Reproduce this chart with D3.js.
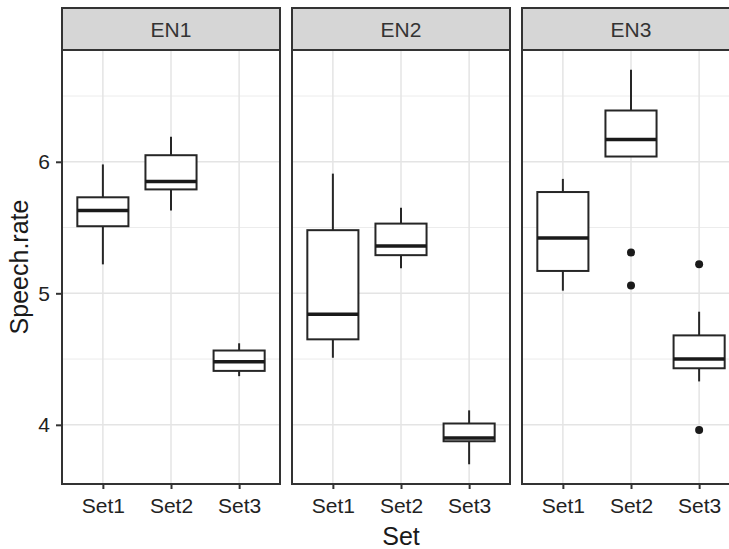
<!DOCTYPE html>
<html>
<head>
<meta charset="utf-8">
<script src="https://cdn.jsdelivr.net/npm/d3@7"></script>
<style>
  body { margin: 0; background: #fff; }
  svg { display: block; font-family: "Liberation Sans", Arial, sans-serif; }
</style>
</head>
<body>
<div id="chart"></div>
<script>
// facets and categories
const panels = ['EN1', 'EN2', 'EN3'];
const sets = ['Set1', 'Set2', 'Set3'];

// box statistics, one row per panel, one value per set
const lowerWhisker = [[5.22, 5.63, 4.37], [4.51, 5.19, 3.70], [5.02, 6.04, 4.33]];
const q1 = [[5.51, 5.79, 4.41], [4.65, 5.29, 3.875], [5.17, 6.04, 4.43]];
const median = [[5.63, 5.85, 4.48], [4.84, 5.36, 3.90], [5.42, 6.17, 4.50]];
const q3 = [[5.73, 6.05, 4.565], [5.48, 5.53, 4.01], [5.77, 6.39, 4.68]];
const upperWhisker = [[5.98, 6.19, 4.62], [5.91, 5.65, 4.11], [5.87, 6.70, 4.86]];
const outliers = [[[], [], []], [[], [], []], [[], [5.31, 5.06], [5.22, 3.96]]];

const yTicks = [4, 5, 6];
const yMinor = [4.5, 5.5, 6.5];

const width = 729, height = 549;
const margin = { top: 8, left: 62, bottom: 65 };
const stripH = 42;
const panelW = 218, gap = 12;
const panelTop = margin.top + stripH;
const panelBottom = height - margin.bottom;
const ink = '#222';
const labelSize = '21px';

const svg = d3.select('#chart')
  .append('svg')
  .attr('width', width)
  .attr('height', height);

// y scale with ggplot-like 5% expansion
const allVals = d3.merge([
  d3.merge(lowerWhisker),
  d3.merge(upperWhisker),
  d3.merge(outliers.map(p => d3.merge(p)))
]);
const [lo, hi] = d3.extent(allVals);
const pad = (hi - lo) * 0.05;
const y = d3.scaleLinear()
  .domain([lo - pad, hi + pad])
  .range([panelBottom, panelTop]);

const x = d3.scalePoint()
  .domain(sets)
  .range([0, panelW])
  .padding(0.6);
const boxW = x.step() * 0.75;

panels.forEach((name, p) => {
  const g = svg.append('g')
    .attr('transform', `translate(${margin.left + p * (panelW + gap)}, 0)`);

  //grid lines
  g.selectAll('.minor')
    .data(yMinor)
    .join('line')
    .attr('x1', 0).attr('x2', panelW)
    .attr('y1', d => y(d)).attr('y2', d => y(d))
    .attr('stroke', '#ececec')
    .attr('stroke-width', 1);

  g.selectAll('.major')
    .data(yTicks)
    .join('line')
    .attr('x1', 0).attr('x2', panelW)
    .attr('y1', d => y(d)).attr('y2', d => y(d))
    .attr('stroke', '#e4e4e4')
    .attr('stroke-width', 1.5);

  g.selectAll('.vgrid')
    .data(sets)
    .join('line')
    .attr('x1', d => x(d)).attr('x2', d => x(d))
    .attr('y1', panelTop).attr('y2', panelBottom)
    .attr('stroke', '#e4e4e4')
    .attr('stroke-width', 1.5);

  // boxes
  const rows = sets.map((s, i) => ({
    set: s,
    lw: lowerWhisker[p][i], q1: q1[p][i], med: median[p][i],
    q3: q3[p][i], uw: upperWhisker[p][i], out: outliers[p][i]
  }));

  const box = g.selectAll('.box')
    .data(rows)
    .join('g');

  box.append('line')
    .attr('x1', d => x(d.set)).attr('x2', d => x(d.set))
    .attr('y1', d => y(d.uw)).attr('y2', d => y(d.q3))
    .attr('stroke', '#262626').attr('stroke-width', 2);

  box.append('line')
    .attr('x1', d => x(d.set)).attr('x2', d => x(d.set))
    .attr('y1', d => y(d.q1)).attr('y2', d => y(d.lw))
    .attr('stroke', '#262626').attr('stroke-width', 2);

  box.append('rect')
    .attr('x', d => x(d.set) - boxW / 2)
    .attr('y', d => y(d.q3))
    .attr('width', boxW)
    .attr('height', d => y(d.q1) - y(d.q3))
    .attr('fill', '#fff')
    .attr('stroke', '#262626')
    .attr('stroke-width', 2);

  box.append('line')
    .attr('x1', d => x(d.set) - boxW / 2).attr('x2', d => x(d.set) + boxW / 2)
    .attr('y1', d => y(d.med)).attr('y2', d => y(d.med))
    .attr('stroke', '#1a1a1a').attr('stroke-width', 3.5);

  box.selectAll('circle')
    .data(d => d.out.map(v => ({ set: d.set, v })))
    .join('circle')
    .attr('cx', d => x(d.set))
    .attr('cy', d => y(d.v))
    .attr('r', 4)
    .attr('fill', '#1a1a1a');

  // panel border
  g.append('rect')
    .attr('x', 0).attr('y', panelTop)
    .attr('width', panelW).attr('height', panelBottom - panelTop)
    .attr('fill', 'none')
    .attr('stroke', '#333')
    .attr('stroke-width', 2);

  // strip
  g.append('rect')
    .attr('x', 0).attr('y', margin.top)
    .attr('width', panelW).attr('height', stripH)
    .attr('fill', '#d6d6d6')
    .attr('stroke', '#333')
    .attr('stroke-width', 2);

  g.append('text')
    .attr('x', panelW / 2)
    .attr('y', margin.top + stripH / 2)
    .attr('dy', '0.36em')
    .attr('text-anchor', 'middle')
    .style('font-size', labelSize)
    .attr('fill', '#333')
    .text(name);

  //x-axis
  g.append('g')
    .attr('transform', `translate(0, ${panelBottom})`)
    .call(d3.axisBottom(x).tickSize(5).tickPadding(9))
    .call(a => a.select('.domain').remove())
    .call(a => a.selectAll('.tick line').attr('stroke', '#333').attr('stroke-width', 2))
    .call(a => a.selectAll('.tick text')
      .attr('fill', ink)
      .style('font-family', '"Liberation Sans", Arial, sans-serif')
      .style('font-size', labelSize));

  //y-axis on first panel only
  if (p === 0) {
    g.append('g')
      .call(d3.axisLeft(y).tickValues(yTicks).tickFormat(d3.format('d')).tickSize(6).tickPadding(6))
      .call(a => a.select('.domain').remove())
      .call(a => a.selectAll('.tick line').attr('stroke', '#333').attr('stroke-width', 2))
      .call(a => a.selectAll('.tick text')
        .attr('fill', ink)
        .style('font-family', '"Liberation Sans", Arial, sans-serif')
        .style('font-size', labelSize));
  }
});

// axis titles
svg.append('text')
  .attr('transform', `translate(28, ${(panelTop + panelBottom) / 2}) rotate(-90)`)
  .attr('text-anchor', 'middle')
  .style('font-size', '25px')
  .attr('fill', '#1a1a1a')
  .text('Speech.rate');

svg.append('text')
  .attr('x', 401)
  .attr('y', 545)
  .attr('text-anchor', 'middle')
  .style('font-size', '25px')
  .attr('fill', '#1a1a1a')
  .text('Set');
</script>
</body>
</html>
